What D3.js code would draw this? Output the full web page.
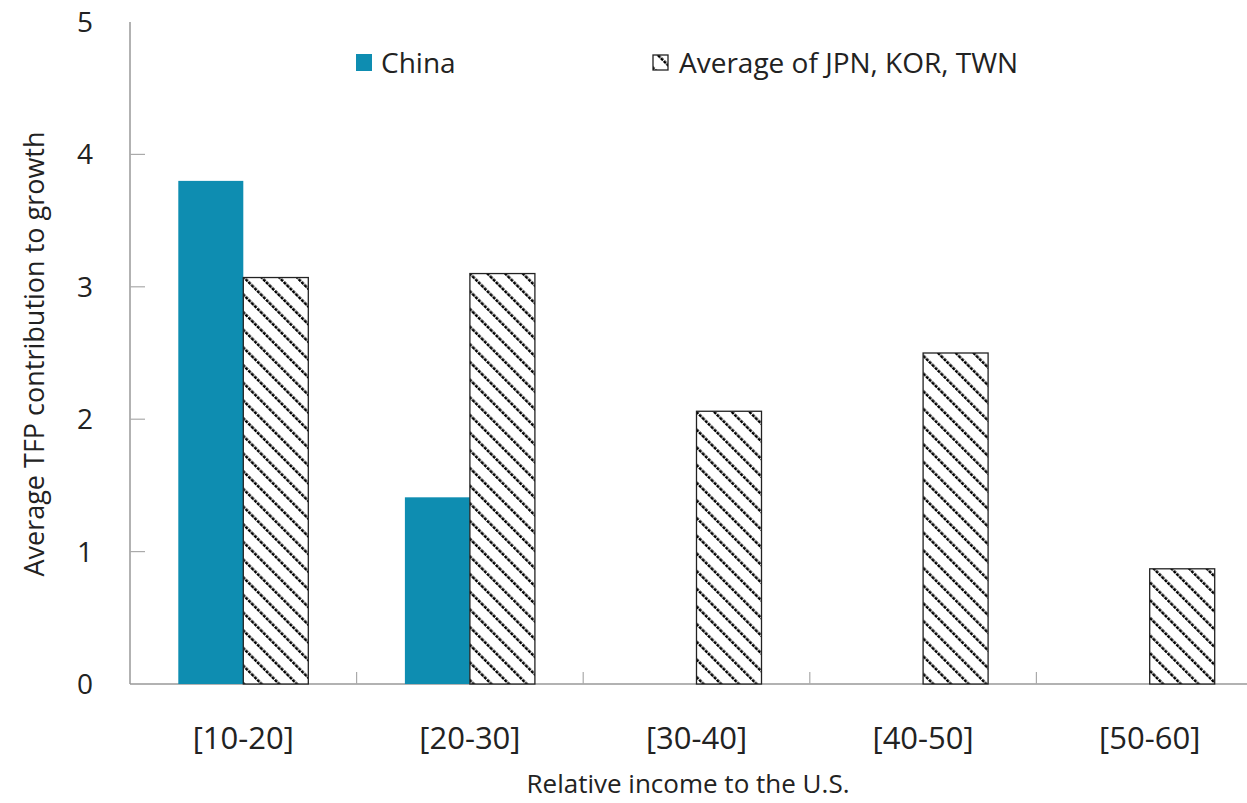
<!DOCTYPE html>
<html><head><meta charset="utf-8">
<script src="https://cdn.jsdelivr.net/npm/d3@7"></script>
<style>body{margin:0;background:#fff}svg{display:block}text{font-family:"Open Sans",sans-serif;fill:#222}</style>
</head><body><svg id="c" width="1247" height="803"></svg>
<script>
const categories = ["[10-20]","[20-30]","[30-40]","[40-50]","[50-60]"];
const china = [3.80, 1.41, null, null, null];
const avgJKT = [3.07, 3.10, 2.06, 2.50, 0.87];
const yTicks = [0,1,2,3,4,5];
const seriesNames = ["China","Average of JPN, KOR, TWN"];

const svg = d3.select("#c");
const x0 = 130, x1 = 1263, yTop = 22, yBot = 684;
const x = d3.scaleBand().domain(categories).range([x0, x1]).paddingInner(0).paddingOuter(0);
const y = d3.scaleLinear().domain([0,5]).range([yBot, yTop]);
const barW = 65;

const defs = svg.append("defs");
const pat = defs.append("pattern").attr("id","hatch").attr("patternUnits","userSpaceOnUse")
  .attr("width",12.5).attr("height",12.5).attr("patternTransform","rotate(-45)");
pat.append("rect").attr("width",12.5).attr("height",12.5).attr("fill","#fff");
pat.append("line").attr("x1",0).attr("y1",0).attr("x2",0).attr("y2",12.5)
  .attr("stroke","#000").attr("stroke-width",5).attr("stroke-dasharray","3.2,1.0");

// axes lines
svg.append("line").attr("x1",x0).attr("x2",x0).attr("y1",yTop).attr("y2",yBot).attr("stroke","#999").attr("stroke-width",1.5);
svg.append("line").attr("x1",x0).attr("x2",1247).attr("y1",yBot).attr("y2",yBot).attr("stroke","#999").attr("stroke-width",1.5);

// y ticks
yTicks.forEach(t=>{
  if (t>0 && t<5) svg.append("line").attr("x1",x0).attr("x2",x0+15).attr("y1",y(t)).attr("y2",y(t)).attr("stroke","#aaa").attr("stroke-width",1.2);
  svg.append("text").attr("x",93).attr("y",y(t)).attr("dy","0.36em").attr("text-anchor","end")
    .attr("font-size",28).text(t);
});
// x ticks (category boundaries)
categories.forEach((c,i)=>{
  if (i>0) svg.append("line").attr("x1",x(c)).attr("x2",x(c)).attr("y1",yBot).attr("y2",yBot-12).attr("stroke","#aaa").attr("stroke-width",1.2);
  svg.append("text").attr("x",x(c)+x.bandwidth()/2).attr("y",738).attr("dy","0.35em").attr("text-anchor","middle")
    .attr("font-size",31).text(c);
});

// bars
const cx = c => x(c)+x.bandwidth()/2;
categories.forEach((c,i)=>{
  if (china[i]!=null) svg.append("rect").attr("x",cx(c)-barW).attr("width",barW)
    .attr("y",y(china[i])).attr("height",yBot-y(china[i])).attr("fill","#0e8db1");
  svg.append("rect").attr("x",cx(c)).attr("width",barW)
    .attr("y",y(avgJKT[i])).attr("height",yBot-y(avgJKT[i])).attr("fill","url(#hatch)")
    .attr("stroke","#222").attr("stroke-width",1.3);
});

// legend
svg.append("rect").attr("x",356).attr("y",54).attr("width",16).attr("height",17).attr("fill","#0e8db1");
svg.append("text").attr("x",381).attr("y",63).attr("dy","0.35em").attr("font-size",28).text(seriesNames[0]);
svg.append("rect").attr("x",653).attr("y",55).attr("width",15).attr("height",15).attr("fill","url(#hatch)").attr("stroke","#222").attr("stroke-width",1.3);
svg.append("text").attr("x",679).attr("y",63).attr("dy","0.35em").attr("font-size",28).text(seriesNames[1]);

// axis titles
svg.append("text").attr("x",688).attr("y",793).attr("text-anchor","middle").attr("font-size",26).text("Relative income to the U.S.");
svg.append("text").attr("transform","translate(35,354) rotate(-90)").attr("dy","0.35em").attr("text-anchor","middle").attr("font-size",27).text("Average TFP contribution to growth");
</script></body></html>
